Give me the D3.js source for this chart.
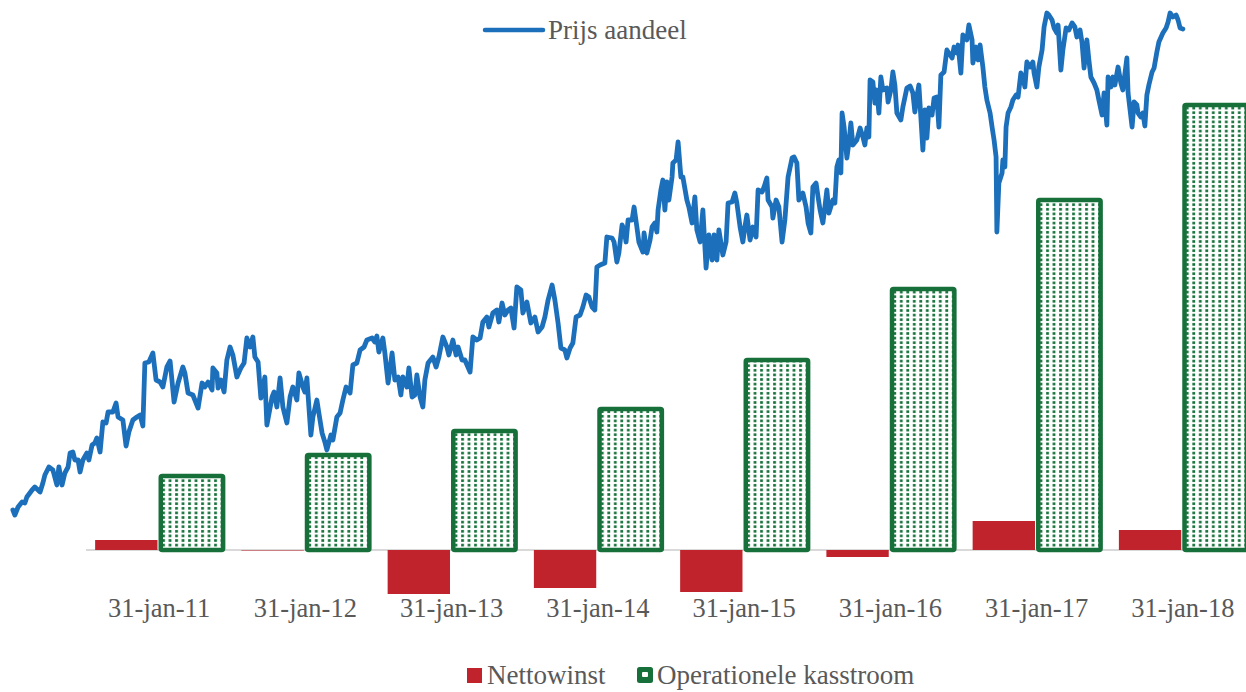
<!DOCTYPE html>
<html>
<head>
<meta charset="utf-8">
<script src="https://cdn.jsdelivr.net/npm/d3@7"></script>
<style>
  body { margin: 0; background: #fff; }
  svg { display: block; }
  text { font-family: "Liberation Serif", "Times New Roman", serif; fill: #595959; }
</style>
</head>
<body>
<svg width="1246" height="692"></svg>
<script>
// categories (balansdatum)
var years = ["31-jan-11", "31-jan-12", "31-jan-13", "31-jan-14", "31-jan-15", "31-jan-16", "31-jan-17", "31-jan-18"];
// nettowinst en operationele kasstroom (zelfde eenheid)
var nettowinst = [5, -0.5, -22, -19, -21, -3.5, 14.5, 10];
var kasstroom = [37, 47.5, 59.5, 70.5, 95, 130.5, 175, 222.5];

// koers aandeel: dagen na 31-jan-10 en prijs
var priceDays = [0,5,13,23,30,35,48,55,68,75,80,90,100,110,115,123,130,138,143,150,155,163,168,175,185,190,198,205,210,218,
  225,233,238,250,258,263,275,283,290,300,310,318,325,330,340,350,358,368,375,385,393,403,413,425,430,438,450,463,473,480,
  488,498,500,510,513,520,528,535,543,550,560,570,578,585,593,600,605,613,620,630,635,648,653,660,668,675,685,693,
  700,710,715,725,730,735,745,750,760,765,773,780,785,795,800,810,818,825,833,843,850,860,868,878,885,898,905,910,915,925,
  930,938,948,955,963,970,975,985,990,998,1005,1010,1018,1025,1030,1038,1050,1058,1065,1075,1085,1090,1100,1108,1113,1123,
  1130,1143,1150,1160,1168,1175,1185,1190,1200,1210,1215,1223,1230,1238,1245,1253,1260,1270,1275,1285,1295,1305,1313,1323,
  1330,1338,1348,1355,1363,1370,1380,1385,1393,1400,1408,1418,1425,1433,1440,1448,1455,1460,
  1468,1480,1485,1498,1503,1510,1515,1523,1528,1533,1538,1548,1553,1560,1565,1575,1578,1585,1593,1598,1605,1610,1613,1620,
  1625,1630,1635,1640,1648,1650,1658,1663,1670,1675,1685,1690,1698,1705,1710,1718,1725,1733,1740,1748,1753,1760,1765,1775,
  1783,1788,1798,1805,1810,1818,1825,1830,1835,1843,1850,1858,1863,1873,1878,1885,1888,1898,1900,1908,1915,1923,1930,1938,
  1948,1953,1960,1965,1975,1983,1988,1995,2000,2008,2013,2018,2025,2030,2035,2040,2050,2055,2060,2065,2070,2073,2078,2085,
  2090,2095,2100,2110,2118,2125,2130,2135,2140,2143,2150,2155,2160,2165,2170,2175,2185,2188,2195,2200,2205,2210,2220,
  2225,2235,2243,2250,2255,2260,2265,2275,2280,2285,2290,2298,2303,2310,2315,2320,2328,2335,2340,2348,2353,2360,2363,2370,
  2375,2385,2390,2398,2400,2408,2413,2418,2425,2430,2435,2443,2448,2453,2458,2460,2465,2473,2475,2480,2483,2488,2495,2500,
  2508,2513,2520,2525,2530,2535,2543,2550,2553,2560,2565,2573,2578,2585,2590,2598,2603,2610,2613,2620,2625,2633,2640,2648,
  2655,2660,2668,2673,2678,2685,2690,2695,2703,2710,2715,2723,2728,2735,2738,2745,2750,2755,2763,2770,2775,2785,2788,2798,
  2803,2810,2813,2820,2825,2830,2835,2840,2848,2853,2860,2865,2875,2883,2888,2893,2900,2908,2913,2918,2925];
var prices = [9.0,8.5,9.3,9.8,9.7,10.3,11.0,11.3,10.8,11.7,12.5,13.3,13.0,11.5,13.3,11.5,12.7,13.3,14.7,14.8,14.0,14.0,12.8,14.0,14.7,14.0,15.5,15.7,16.2,14.8,
  17.8,17.7,18.8,18.8,19.7,18.3,18.0,15.4,16.8,18.0,18.3,18.5,17.4,23.7,23.8,24.7,22.0,21.8,21.3,23.3,23.9,19.8,21.7,23.3,22.7,20.7,20.5,19.2,21.7,21.3,
  21.8,21.0,23.2,22.7,21.2,22.0,20.8,24.0,25.3,24.5,22.3,23.2,23.7,26.2,25.3,26.3,24.3,23.8,20.2,22.3,17.5,20.3,20.8,19.3,22.2,19.3,17.7,20.3,
  21.3,20.0,22.7,21.3,20.8,22.2,16.5,18.3,20.0,18.7,16.7,15.8,15.0,16.5,16.0,18.3,18.7,20.0,21.3,20.7,23.5,23.7,25.0,25.3,26.0,26.2,25.8,26.4,24.8,26.2,
  24.7,21.7,24.7,22.0,22.3,20.5,22.3,21.3,23.2,20.3,20.5,22.5,20.3,19.3,22.0,23.7,24.3,23.3,24.3,26.3,25.3,24.5,26.0,24.5,25.3,24.0,
  24.0,22.8,26.3,26.0,26.2,27.8,28.3,27.3,28.7,29.0,27.8,29.7,28.5,29.0,29.2,27.2,31.3,31.0,28.7,29.8,27.7,28.3,26.8,27.3,
  28.3,30.0,31.5,30.0,27.7,25.2,25.0,24.2,25.2,25.7,28.3,28.5,29.3,30.5,30.3,29.3,29.0,33.3,
  33.5,33.7,36.3,36.2,35.8,33.8,34.7,37.5,37.0,35.8,38.0,38.0,39.3,37.3,35.8,34.8,36.7,34.7,36.0,37.3,37.7,36.8,39.0,41.0,
  42.0,39.0,41.8,40.0,42.3,43.7,44.0,45.8,42.3,42.3,40.0,39.3,37.7,40.3,37.0,35.8,39.0,33.2,36.5,34.0,36.5,34.0,37.0,34.5,
  35.8,39.7,39.8,40.7,39.7,37.3,35.8,37.3,38.5,36.0,37.3,36.3,41.0,40.8,41.3,42.2,40.0,39.3,38.2,40.0,39.3,35.8,38.0,42.3,
  44.2,44.3,43.7,40.0,40.7,39.3,37.7,36.7,41.3,41.7,40.3,39.0,37.7,39.3,41.0,38.7,40.0,39.7,43.3,44.0,42.7,48.7,47.3,44.2,
  45.7,47.7,45.5,46.0,47.2,46.3,45.5,47.2,46.3,52.0,51.8,49.7,51.0,48.7,52.3,51.0,51.2,49.8,51.0,52.8,51.5,48.7,48.0,
  49.3,51.2,51.4,50.7,48.8,50.3,51.5,45.0,49.0,46.2,49.2,48.5,50.2,50.3,47.3,52.5,52.8,55.0,54.7,54.2,55.3,54.7,55.5,52.7,
  56.5,56.0,57.5,56.0,53.7,55.3,54.0,55.5,53.3,51.3,50.0,48.7,47.3,46.0,44.3,36.8,41.7,42.7,44.0,43.3,47.3,48.7,49.3,50.0,
  50.5,50.3,52.7,52.3,51.3,53.8,53.3,53.8,52.7,51.3,53.3,55.0,57.3,58.7,58.5,58.0,57.2,56.7,57.5,53.0,55.0,57.2,57.0,57.7,
  57.3,56.3,57.0,55.7,53.2,56.0,54.0,52.3,51.7,51.0,50.0,48.5,50.7,47.5,52.3,51.3,52.3,51.5,53.3,51.7,51.0,54.2,50.7,47.3,
  49.8,49.5,48.7,48.3,48.7,47.4,50.5,51.5,52.8,53.2,54.8,55.8,56.7,57.2,57.8,58.7,58.3,58.5,58.0,57.2,57.1];
var priceStart = new Date(2010, 0, 31);

var colors = { net: "#c0232c", ocf: "#17703a", dot: "#15703a", price: "#1c6fba", axis: "#d9d9d9" };

var svg = d3.select("svg");
var width = +svg.attr("width");

var x0 = d3.scaleBand().domain(years).range([86, 1256]).paddingInner(0.125).paddingOuter(0.0625);
var x1 = d3.scaleBand().domain(["net", "ocf"]).range([0, x0.bandwidth()]).paddingInner(0.05);
var yBar = d3.scaleLinear().domain([-60, 270]).range([670, 10]);
var yPrice = d3.scaleLinear().domain([0, 60]).range([600, 0]);

var firstCenter = x0(years[0]) + x0.bandwidth() / 2;
var lastCenter = x0(years[years.length - 1]) + x0.bandwidth() / 2;
var xTime = d3.scaleTime()
  .domain([priceStart, d3.timeDay.offset(priceStart, 2925)])
  .range([firstCenter - x0.step(), lastCenter]);

// dotted fill for the kasstroom bars
var defs = svg.append("defs");
var pat = defs.append("pattern").attr("id", "dots")
  .attr("patternUnits", "userSpaceOnUse").attr("width", 6.5).attr("height", 4.6);
pat.append("rect").attr("width", 6.5).attr("height", 4.6).attr("fill", "#fff");
pat.append("rect").attr("x", 2).attr("y", 1).attr("width", 2.8).attr("height", 2.6).attr("fill", colors.dot);

// zero line
svg.append("line")
  .attr("x1", 86).attr("x2", width)
  .attr("y1", yBar(0)).attr("y2", yBar(0))
  .attr("stroke", colors.axis).attr("stroke-width", 2);

var groups = svg.append("g").selectAll("g").data(years).enter().append("g")
  .attr("transform", function(d) { return "translate(" + x0(d) + ",0)"; });

groups.append("rect")
  .attr("x", x1("net"))
  .attr("width", x1.bandwidth())
  .attr("y", function(d, i) { return yBar(Math.max(0, nettowinst[i])); })
  .attr("height", function(d, i) { return Math.max(1, Math.abs(yBar(nettowinst[i]) - yBar(0))); })
  .attr("fill", colors.net)
  .attr("fill-opacity", function(d, i) { return Math.abs(nettowinst[i]) < 1 ? 0.5 : 1; });

groups.append("rect")
  .attr("x", x1("ocf"))
  .attr("width", x1.bandwidth())
  .attr("y", function(d, i) { return yBar(kasstroom[i]); })
  .attr("height", function(d, i) { return yBar(0) - yBar(kasstroom[i]); })
  .attr("rx", 1.5)
  .attr("fill", "url(#dots)")
  .attr("stroke", colors.ocf).attr("stroke-width", 4.5);

// category labels
svg.append("g").selectAll("text").data(years).enter().append("text")
  .attr("x", function(d) { return x0(d) + x0.bandwidth() / 2; })
  .attr("y", 617)
  .attr("text-anchor", "middle")
  .style("font-size", "26.5px")
  .text(function(d) { return d; });

// koerslijn
var line = d3.line()
  .x(function(d, i) { return xTime(d3.timeDay.offset(priceStart, priceDays[i])); })
  .y(function(d) { return yPrice(d); });

svg.append("path")
  .datum(prices)
  .attr("d", line)
  .attr("fill", "none")
  .attr("stroke", colors.price)
  .attr("stroke-width", 4.8)
  .attr("stroke-linejoin", "round")
  .attr("stroke-linecap", "round");

// legend top
var lt = svg.append("g").attr("transform", "translate(485,30)");
lt.append("line").attr("x1", 0).attr("x2", 58).attr("stroke", colors.price)
  .attr("stroke-width", 4.5).attr("stroke-linecap", "round");
lt.append("text").attr("x", 63).attr("y", 9).style("font-size", "27px").text("Prijs aandeel");

// legend bottom
var lb = svg.append("g").attr("transform", "translate(0,676)");
lb.append("rect").attr("x", 467).attr("y", -8).attr("width", 15).attr("height", 15).attr("fill", colors.net);
lb.append("text").attr("x", 487).attr("y", 8).style("font-size", "27px").text("Nettowinst");
lb.append("rect").attr("x", 637).attr("y", -9).attr("width", 16).attr("height", 16).attr("rx", 2.5).attr("fill", colors.ocf);
lb.append("rect").attr("x", 642).attr("y", -4).attr("width", 6).attr("height", 5).attr("rx", 1).attr("fill", "#fff");
lb.append("text").attr("x", 657).attr("y", 8).style("font-size", "27px").text("Operationele kasstroom");
</script>
</body>
</html>
